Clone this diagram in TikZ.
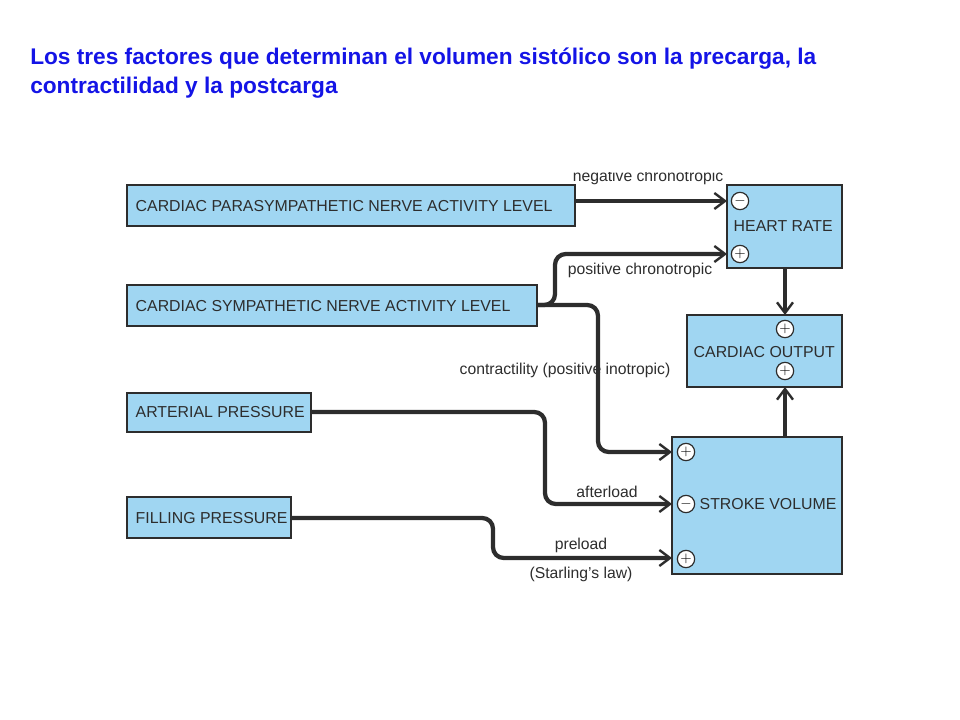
\documentclass[tikz,border=0pt]{standalone}
\usepackage{fontspec}
\setmainfont{Liberation Sans}
\usetikzlibrary{arrows.meta}
\definecolor{boxblue}{RGB}{160,214,242}
\definecolor{titleblue}{RGB}{20,20,230}
\definecolor{ink}{RGB}{45,45,45}
\tikzset{
 bx/.style={draw=ink,line width=1.3pt,fill=boxblue},
 lbl/.style={font=\fontsize{11.9}{14}\selectfont,text=ink},
 small/.style={font=\fontsize{11.8}{14}\selectfont,text=ink},
 conn/.style={line width=3.2pt,ink,rounded corners=8pt,-{Straight Barb[length=8pt,width=12pt,line width=1.8pt]}},
 sg/.style={circle,draw=ink,fill=white,line width=0.9pt,inner sep=0pt,minimum size=13pt,font=\fontsize{11}{11}\selectfont}
}
\begin{document}
\begin{tikzpicture}[x=0.75pt,y=-0.75pt]
\useasboundingbox (0,0) rectangle (960,720);
\node[anchor=west,text=titleblue,font=\bfseries\fontsize{17}{21.8}\selectfont,align=left,inner sep=0pt] (title) at (30,73) {Los tres factores que determinan el volumen sistólico son la precarga, la\\contractilidad y la postcarga};
% boxes
\draw[bx] (127,185) rectangle (575,226); \node[lbl,anchor=west] (para) at (131,206) {CARDIAC PARASYMPATHETIC NERVE ACTIVITY LEVEL};
\draw[bx] (727,185) rectangle (842,268); \node[lbl,anchor=west] (hr) at (729,226) {HEART RATE};
\draw[bx] (127,285) rectangle (537,326); \node[lbl,anchor=west] (symp) at (131,306) {CARDIAC SYMPATHETIC NERVE ACTIVITY LEVEL};
\draw[bx] (687,315) rectangle (842,387); \node[lbl,anchor=west] (co) at (689,352) {CARDIAC OUTPUT};
\draw[bx] (127,393) rectangle (311,432); \node[lbl,anchor=west] (art) at (131,412) {ARTERIAL PRESSURE};
\draw[bx] (127,497) rectangle (291,538); \node[lbl,anchor=west] (fill) at (131,518) {FILLING PRESSURE};
\draw[bx] (672,437) rectangle (842,574); \node[lbl,anchor=west] (sv) at (695,504) {STROKE VOLUME};
% signs
\node[sg] (hrm) at (740,201) {$-$};
\node[sg] (hrp) at (740,254) {$+$};
\node[sg] (cop1) at (785,329) {$+$};
\node[sg] (cop2) at (785,371) {$+$};
\node[sg] (sv1) at (686,452) {$+$};
\node[sg] (sv2) at (686,504) {$-$};
\node[sg] (sv3) at (686,559) {$+$};
% connectors
\coordinate (pe) at (575,201); \coordinate (se) at (537,305);
\coordinate (ae) at (311,412); \coordinate (fe) at (291,518);
\draw[conn] (pe) -- (727,201);
\draw[conn] (se) -- (555,305) -- (555,254) -- (727,254);
\draw[conn] (se) -- (598,305) -- (598,452) -- (672,452);
\draw[conn] (ae) -- (545,412) -- (545,504) -- (672,504);
\draw[conn] (fe) -- (493,518) -- (493,558) -- (672,558);
\draw[conn] (785,268) -- (785,315);
\draw[conn] (785,437) -- (785,387);
% labels
\node[small] (l1) at (648,177) {negative chronotropic};
\fill[white] (500,160) rectangle (800,172);
\node[small] (l2) at (640,270) {positive chronotropic};
\node[small] (l3) at (565,370) {contractility (positive inotropic)};
\node[small] (l4) at (607,492) {afterload};
\node[small] (l5) at (581,545) {preload};
\node[small] (l6) at (581,574) {(Starling's law)};
\end{tikzpicture}
\end{document}
